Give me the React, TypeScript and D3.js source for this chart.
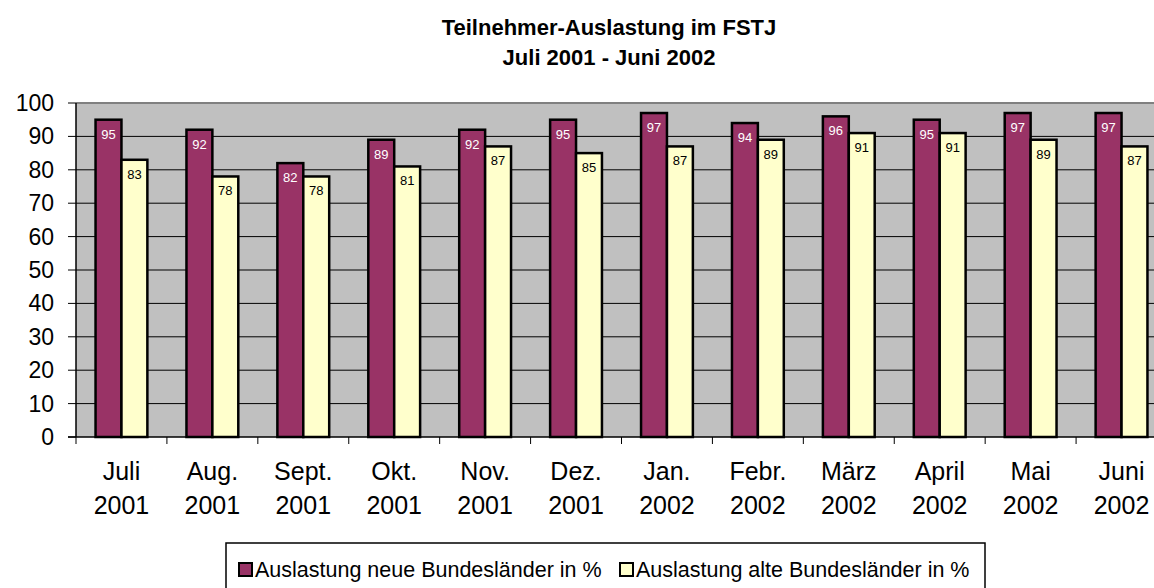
import { useEffect, useRef } from "react";
import * as d3 from "d3";

const months = ["Juli", "Aug.", "Sept.", "Okt.", "Nov.", "Dez.", "Jan.", "Febr.", "März", "April", "Mai", "Juni"];
const years = ["2001", "2001", "2001", "2001", "2001", "2001", "2002", "2002", "2002", "2002", "2002", "2002"];
const neueLaender = [95, 92, 82, 89, 92, 95, 97, 94, 96, 95, 97, 97];
const alteLaender = [83, 78, 78, 81, 87, 85, 87, 89, 91, 91, 89, 87];
const seriesNames = ["Auslastung neue Bundesländer in %", "Auslastung alte Bundesländer in %"];
const yTicks = [0, 10, 20, 30, 40, 50, 60, 70, 80, 90, 100];

const App = () => {
  const svgRef = useRef<SVGSVGElement>(null);

  useEffect(() => {
    const W = 1154;
    const H = 588;
    const font = "'Liberation Sans', Arial, sans-serif";
    const colors = ["#993366", "#FFFFCC"];

    const svg = d3.select(svgRef.current);
    svg.selectAll("*").remove();
    svg.attr("width", W).attr("height", H).style("font-family", font);

    // plot area (right edge runs past the picture, like the original)
    const left = 76;
    const right = 1167;
    const top = 103;
    const bottom = 437;

    const keys = months.map((m, i) => m + i);
    const x0 = d3.scaleBand().domain(keys).range([left, right]).paddingInner(0.43).paddingOuter(0.215);
    const x1 = d3.scaleBand().domain(["0", "1"]).range([0, x0.bandwidth()]);
    const y = d3.scaleLinear().domain([0, 100]).range([bottom, top]);
    const step = x0.step();

    // title
    const title = svg.append("text").attr("text-anchor", "middle")
      .attr("font-weight", "bold").attr("font-size", 22);
    title.append("tspan").attr("x", 609).attr("y", 35).text("Teilnehmer-Auslastung im FSTJ");
    title.append("tspan").attr("x", 609).attr("y", 65).text("Juli 2001 - Juni 2002");

    // background
    svg.append("rect").attr("x", left).attr("y", top).attr("width", right - left)
      .attr("height", bottom - top).attr("fill", "#C0C0C0");

    // grid
    svg.append("g").selectAll("line").data(yTicks.filter((d) => d > 0)).enter().append("line")
      .attr("x1", left).attr("x2", right)
      .attr("y1", (d) => y(d)).attr("y2", (d) => y(d))
      .attr("stroke", (d) => (d === 100 ? "#808080" : "#000"))
      .attr("stroke-width", (d) => (d === 100 ? 2 : 1));

    // y axis
    const yAxis = svg.append("g");
    yAxis.append("line").attr("x1", left).attr("x2", left).attr("y1", top).attr("y2", bottom)
      .attr("stroke", "#000").attr("stroke-width", 1.5);
    yAxis.selectAll("line.tick").data(yTicks).enter().append("line").attr("class", "tick")
      .attr("x1", left - 8).attr("x2", left)
      .attr("y1", (d) => y(d)).attr("y2", (d) => y(d)).attr("stroke", "#000");
    yAxis.selectAll("text").data(yTicks).enter().append("text")
      .attr("x", 54).attr("y", (d) => y(d) + 8).attr("text-anchor", "end")
      .attr("font-size", 23).text((d) => d);

    // x axis
    const xAxis = svg.append("g");
    xAxis.append("line").attr("x1", left - 8).attr("x2", right).attr("y1", bottom).attr("y2", bottom)
      .attr("stroke", "#000").attr("stroke-width", 1.5);
    xAxis.selectAll("line.tick").data(d3.range(keys.length + 1)).enter().append("line").attr("class", "tick")
      .attr("x1", (i) => left + i * step).attr("x2", (i) => left + i * step)
      .attr("y1", bottom).attr("y2", bottom + 7).attr("stroke", "#000");
    const lbl = xAxis.selectAll("text").data(keys).enter().append("text")
      .attr("text-anchor", "middle").attr("font-size", 25);
    lbl.append("tspan").attr("x", (k) => x0(k)! + x0.bandwidth() / 2).attr("y", 480)
      .text((k, i) => months[i]);
    lbl.append("tspan").attr("x", (k) => x0(k)! + x0.bandwidth() / 2).attr("y", 514)
      .text((k, i) => years[i]);

    // bars
    const series = [neueLaender, alteLaender];
    series.forEach((vals, s) => {
      const g = svg.append("g");
      g.selectAll("rect").data(vals).enter().append("rect")
        .attr("x", (d, i) => x0(keys[i])! + x1(String(s))!)
        .attr("y", (d) => y(d))
        .attr("width", x1.bandwidth())
        .attr("height", (d) => y(0) - y(d))
        .attr("fill", colors[s]).attr("stroke", "#000").attr("stroke-width", 2.5);
      g.selectAll("text").data(vals).enter().append("text")
        .attr("x", (d, i) => x0(keys[i])! + x1(String(s))! + x1.bandwidth() / 2)
        .attr("y", (d) => y(d) + 19)
        .attr("text-anchor", "middle").attr("font-size", 13)
        .attr("fill", s === 0 ? "#fff" : "#000").text((d) => d);
    });

    // legend
    const lg = svg.append("g");
    lg.append("rect").attr("x", 226).attr("y", 543).attr("width", 759).attr("height", 60)
      .attr("fill", "#fff").attr("stroke", "#000").attr("stroke-width", 1.5);
    const legendX = [239, 620];
    seriesNames.forEach((name, s) => {
      lg.append("rect").attr("x", legendX[s]).attr("y", 563).attr("width", 13).attr("height", 13)
        .attr("fill", colors[s]).attr("stroke", "#000").attr("stroke-width", 2);
      lg.append("text").attr("x", legendX[s] + 16).attr("y", 577).attr("font-size", 21.5).text(name);
    });
  }, []);

  return (
    <div style={{ position: "absolute", left: 0, top: 0, width: 1154, height: 588, overflow: "hidden" }}>
      <svg ref={svgRef}></svg>
    </div>
  );
};

export default App;
